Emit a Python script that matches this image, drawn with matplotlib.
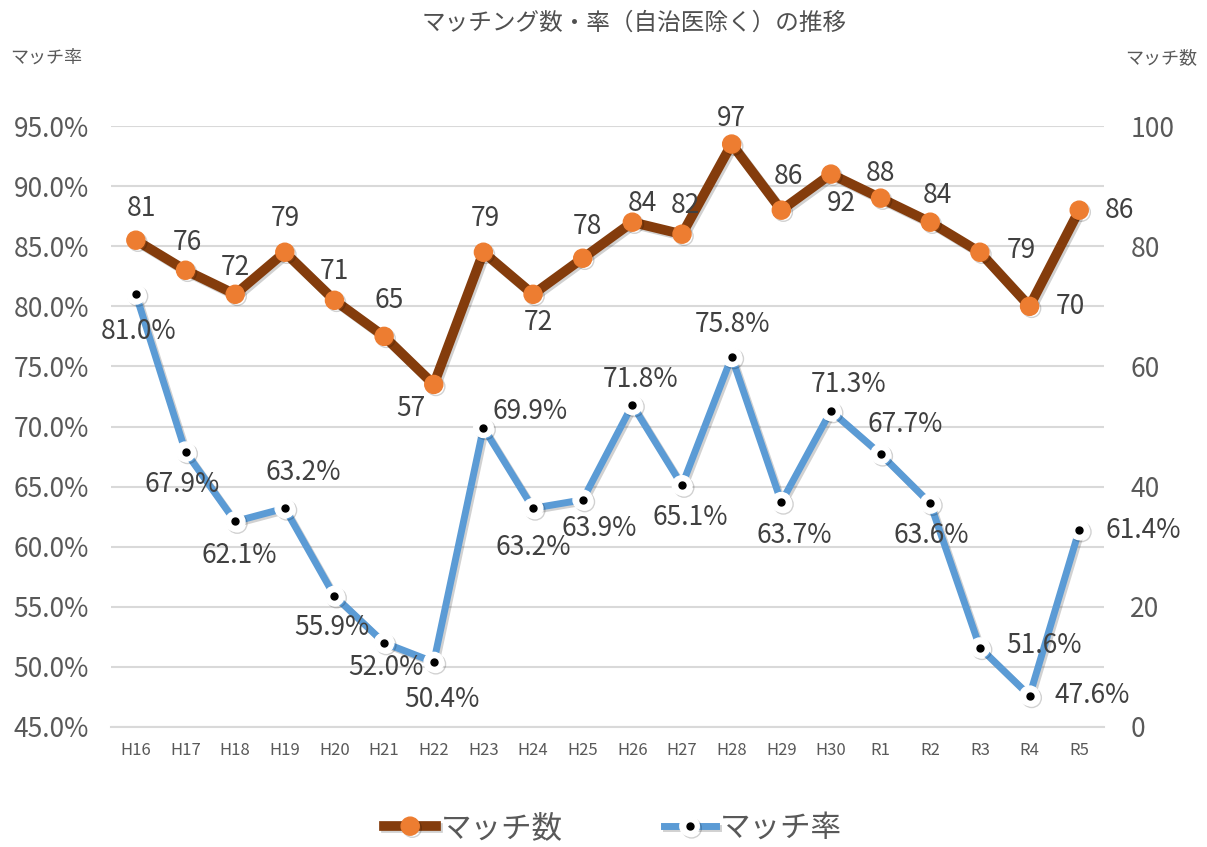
import numpy as np
import matplotlib
matplotlib.use('Agg')
import matplotlib.pyplot as plt
import matplotlib.patheffects as pe
from matplotlib.legend_handler import HandlerTuple

plt.rcParams['font.family'] = ['Noto Sans CJK JP', 'DejaVu Sans']

# data
years = ['H16', 'H17', 'H18', 'H19', 'H20', 'H21', 'H22', 'H23', 'H24', 'H25',
         'H26', 'H27', 'H28', 'H29', 'H30', 'R1', 'R2', 'R3', 'R4', 'R5']
match_count = [81, 76, 72, 79, 71, 65, 57, 79, 72, 78,
               84, 82, 97, 86, 92, 88, 84, 79, 70, 86]
match_rate = [81.0, 67.9, 62.1, 63.2, 55.9, 52.0, 50.4, 69.9, 63.2, 63.9,
              71.8, 65.1, 75.8, 63.7, 71.3, 67.7, 63.6, 51.6, 47.6, 61.4]

# label offsets in pixels (dx, dy)
count_off = [(6, 32), (2, 28), (0, 27), (0, 34), (0, 29), (5, 36), (-23, -24),
             (2, 34), (5, -28), (5, 32), (10, 19), (3, 29), (0, 26), (7, 34),
             (10, -29), (0, 25), (7, 27), (41, 2), (41, 0), (40, 0)]
rate_off = [(3, -37), (-3, -33), (4, -34), (18, 36), (-3, -32), (2, -25),
            (8, -37), (47, 16), (0, -39), (16, -29), (8, 25), (8, -32),
            (1, 32), (13, -33), (18, 26), (25, 30), (1, -32), (64, 2),
            (63, 0), (64, -1)]

c_brown = '#843C0C'
c_orange = '#ED7D31'
c_blue = '#5B9BD5'
c_text = '#595959'
c_label = '#404040'

x = np.arange(len(years))

fig = plt.figure(figsize=(12.07, 8.47), dpi=100)
ax = fig.add_axes([0.092, 0.1417, 0.8227, 0.7095])
ax2 = ax.twinx()

shadow = [pe.SimpleLineShadow(offset=(1.5, -1.5), shadow_color='black', alpha=0.18), pe.Normal()]

# match rate (left axis)
ln_rate, = ax.plot(x, match_rate, color=c_blue, lw=5, marker='o', ms=14,
                   mfc='white', mec='white', zorder=3, path_effects=shadow)
ln_dot, = ax.plot(x, match_rate, ls='none', marker='o', ms=5, color='black', zorder=4)

# match count (right axis)
ln_cnt, = ax2.plot(x, match_count, color=c_brown, lw=7, marker='o', ms=13,
                   mfc=c_orange, mec=c_orange, zorder=3, path_effects=shadow)

for i in range(len(x)):
    ax.annotate('%.1f%%' % match_rate[i], (x[i], match_rate[i]), xytext=rate_off[i],
                textcoords='offset pixels', ha='center', va='center',
                fontsize=19, color=c_label, zorder=5)
    ax2.annotate('%d' % match_count[i], (x[i], match_count[i]), xytext=count_off[i],
                 textcoords='offset pixels', ha='center', va='center',
                 fontsize=19, color=c_label, zorder=5)

ax.set_xlim(-0.5, len(years) - 0.5)
ax.set_ylim(45, 95)
ax.set_yticks(np.arange(45, 96, 5))
ax.set_yticklabels(['%.1f%%' % v for v in np.arange(45, 96, 5)])
ax2.set_ylim(0, 100)
ax2.set_yticks(np.arange(0, 101, 20))

ax.set_xticks(x)
ax.set_xticklabels(years)
ax.grid(axis='y', color='#D9D9D9', lw=1.5)
ax.set_axisbelow(True)

for a in (ax, ax2):
    for s in a.spines.values():
        s.set_visible(False)
ax.spines['bottom'].set_visible(True)
ax.spines['bottom'].set_color('#D9D9D9')
ax.spines['bottom'].set_linewidth(1.5)

ax.tick_params(axis='y', length=0, pad=16, labelsize=19, labelcolor=c_text)
ax2.tick_params(axis='y', length=0, pad=19, labelsize=19, labelcolor=c_text)
ax.tick_params(axis='x', length=0, pad=11, labelsize=12, labelcolor=c_text)

fig.text(0.525, 0.972, 'マッチング数・率（自治医除く）の推移', ha='center', va='center',
         fontsize=17, color='#505050')
fig.text(0.008, 0.932, 'マッチ率', ha='left', va='center', fontsize=13, color=c_text)
fig.text(0.992, 0.932, 'マッチ数', ha='right', va='center', fontsize=13, color=c_text)

leg = fig.legend([ln_cnt, (ln_rate, ln_dot)], ['マッチ数', 'マッチ率'],
                 handler_map={tuple: HandlerTuple(ndivide=1, pad=0)},
                 loc='center', bbox_to_anchor=(0.508, 0.022), ncol=2, frameon=False,
                 fontsize=22, handlelength=1.7, columnspacing=3.3, handletextpad=0.15)
for t in leg.get_texts():
    t.set_color(c_text)

fig.savefig('out.png', dpi=100)
